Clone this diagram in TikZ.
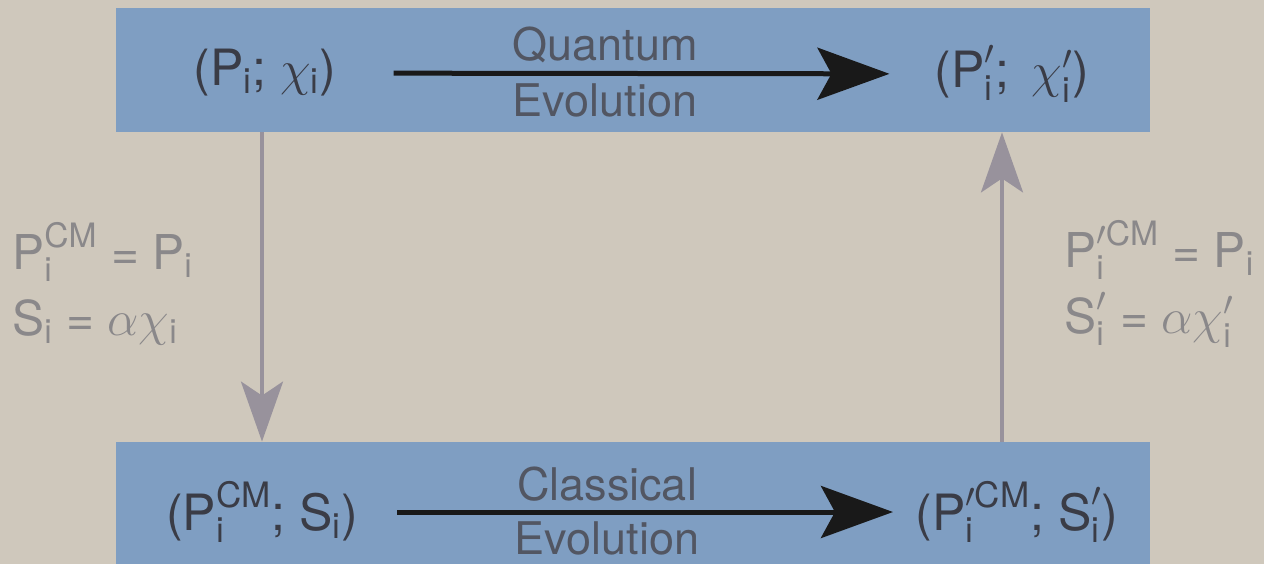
\documentclass[tikz,border=0pt]{standalone}
\usepackage{amsmath}
\usepackage{fontspec}
\setmainfont{TeX Gyre Heros}
\usetikzlibrary{arrows.meta,positioning}

\definecolor{bgcol}{RGB}{207,200,188}
\definecolor{boxcol}{RGB}{127,158,194}
\definecolor{inkcol}{RGB}{58,60,70}
\definecolor{wordcol}{RGB}{82,86,98}
\definecolor{sidecol}{RGB}{138,136,138}
\definecolor{uparrow}{RGB}{152,146,156}

\tikzset{
  band/.style={fill=boxcol,minimum width=517pt,minimum height=62pt,inner sep=0pt},
  pair/.style={text=inkcol,font=\fontsize{25}{28}\selectfont,inner sep=0pt},
  word/.style={text=wordcol,font=\fontsize{22.5}{26}\selectfont,inner sep=0pt},
  side/.style={text=sidecol,font=\fontsize{24}{33}\selectfont,align=left,inner sep=0pt,anchor=west},
  evol/.style={line width=2.5pt,black!90,-{Stealth[length=36pt,width=26pt,inset=7pt]}},
  link/.style={line width=2pt,uparrow,-{Stealth[length=30pt,width=21pt,inset=7pt]}}
}
\newcommand{\tx}[1]{\text{#1}}

\begin{document}
\begin{tikzpicture}[x=0.5pt,y=0.5pt]
    \fill[bgcol] (0,0) rectangle (1264,564);
    \useasboundingbox (0,0) rectangle (1264,564);

    \node[band] (qbox) at (633,494) {};
    \node[band,minimum height=61pt] (cbox) at (633,61) {};

    \node[pair] (qa) at (265,491) {($\tx{P}_{\tx{i}}$; $\chi_{\tx{i}}$)};
    \node[pair] (qb) at (1012,490) {($\tx{P}'_{\tx{i}}$;\, $\chi'_{\tx{i}}$)};
    \node[pair] (ca) at (262,52) {($\tx{P}^{\tx{CM}}_{\tx{i}}$; $\tx{S}_{\tx{i}}$)};
    \node[pair] (cb) at (1017,52) {($\tx{P}'^{\tx{CM}}_{\tx{i}}$; $\tx{S}'_{\tx{i}}$)};

    \node[word] (qw1) at (605,519) {Quantum};
    \node[word] (qw2) at (605,464) {Evolution};
    \node[word] (cw1) at (607,80) {Classical};
    \node[word] (cw2) at (607,26) {Evolution};

    \node[side] (lrel) at (12,280) {$\tx{P}^{\tx{CM}}_{\tx{i}}$ = $\tx{P}_{\tx{i}}$\\ $\tx{S}_{\tx{i}}$ = $\alpha\chi_{\tx{i}}$};
    \node[side] (rrel) at (1064,280) {$\tx{P}'^{\tx{CM}}_{\tx{i}}$ = $\tx{P}_{\tx{i}}$\\ $\tx{S}'_{\tx{i}}$ = $\alpha\chi'_{\tx{i}}$};

    \draw[evol,shorten <=28.5pt,shorten >=22.5pt] (qa) -- (qb);
    \draw[evol,shorten <=19.5pt,shorten >=11pt] (ca) -- (cb);
    \draw[link] (qbox.south -| 262,0) -- (cbox.north -| 262,0);
    \draw[link] (cbox.north -| 1002,0) -- (qbox.south -| 1002,0);
\end{tikzpicture}
\end{document}
